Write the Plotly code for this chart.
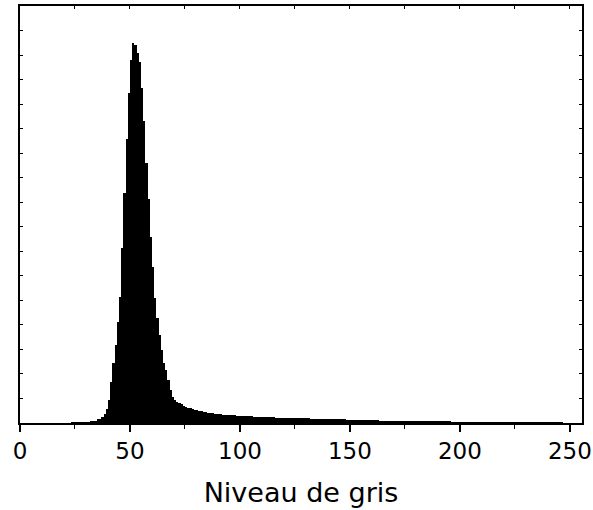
import plotly.graph_objects as go

# Grey levels 0..255 and their pixel counts
levels = list(range(256))
counts = [
    0, 0, 0, 0, 0, 0, 0, 0, 0, 0,
    0, 0, 0, 0, 0, 0, 0, 0, 0, 0,
    0, 0, 0, 1, 2, 3, 5, 7, 10, 14,
    20, 33, 53, 73, 102, 143, 183, 245, 367, 571,
    938, 1672, 2446, 3180, 4118, 5137, 7135, 9377, 11579, 13454,
    14800, 15490, 15410, 15100, 14700, 13650, 12300, 10600, 9130, 7580,
    6360, 5100, 4280, 3590, 2980, 2450, 2160, 1750, 1350, 1060,
    930, 850, 800, 760, 700, 660, 625, 600, 570, 545,
    520, 495, 470, 450, 435, 420, 405, 395, 385, 372,
    362, 355, 345, 338, 330, 322, 316, 308, 300, 297,
    292, 288, 283, 279, 275, 270, 265, 262, 258, 252,
    248, 244, 238, 232, 230, 227, 224, 222, 219, 216,
    214, 211, 208, 205, 203, 200, 197, 195, 192, 190,
    187, 185, 182, 179, 177, 174, 172, 169, 166, 164,
    161, 158, 156, 153, 151, 148, 146, 143, 140, 138,
    135, 132, 130, 127, 124, 121, 118, 115, 113, 110,
    108, 106, 104, 102, 100, 98, 96, 94, 92, 90,
    88, 86, 85, 83, 82, 80, 78, 76, 74, 72,
    70, 68, 66, 64, 62, 60, 58, 57, 55, 53,
    52, 50, 48, 46, 44, 42, 40, 38, 36, 34,
    32, 31, 30, 29, 29, 27, 26, 25, 24, 23,
    22, 21, 20, 19, 18, 18, 17, 17, 16, 16,
    15, 14, 13, 12, 11, 10, 9, 8, 7, 6,
    6, 5, 5, 4, 4, 3, 3, 3, 2, 2,
    2, 2, 1, 1, 1, 1, 1, 0, 0, 0,
    0, 0, 0, 0, 0, 0,
]
x_ticks = [0, 50, 100, 150, 200, 250]
x_title = "Niveau de gris"

FONT = "DejaVu Sans"

fig = go.Figure()
fig.add_trace(go.Bar(
    x=levels, y=counts, width=1, offset=0,
    marker=dict(color="black", line=dict(width=0)),
    showlegend=False, hoverinfo="x+y",
))
# dummy trace to create the top axis (inward ticks)
fig.add_trace(go.Scatter(x=[], y=[], xaxis="x2", showlegend=False))

fig.update_layout(
    width=593, height=510,
    margin=dict(l=20, r=11, t=6, b=87, autoexpand=False),
    paper_bgcolor="white", plot_bgcolor="white",
    bargap=0,
    font=dict(family=FONT, color="black"),
    xaxis=dict(
        range=[0, 255.5], tickmode="array", tickvals=x_ticks,
        ticktext=[str(v) for v in x_ticks], automargin=False,
        ticks="outside", ticklen=7, tickwidth=1.5, tickcolor="black",
        minor=dict(dtick=25, tick0=0, ticks="outside", ticklen=4, tickwidth=1.2, tickcolor="black"),
        showline=True, linewidth=1.5, linecolor="black", mirror=True,
        showgrid=False, zeroline=False,
        tickfont=dict(size=23, family=FONT),
        title=dict(text=x_title, font=dict(size=27, family=FONT), standoff=20),
    ),
    xaxis2=dict(
        overlaying="x", side="top", anchor="y", range=[0, 255.5], automargin=False,
        tickmode="linear", tick0=0, dtick=25,
        ticks="inside", ticklen=3, tickwidth=1, tickcolor="black",
        showticklabels=False, showline=False, showgrid=False, zeroline=False,
    ),
    yaxis=dict(
        range=[0, 17000], tickmode="linear", tick0=0, dtick=1000, automargin=False,
        ticks="inside", ticklen=3, tickwidth=1, tickcolor="black",
        showticklabels=False, showline=True, linewidth=1.5, linecolor="black",
        mirror="ticks", showgrid=False, zeroline=False,
    ),
)

fig.write_html(
    "out.html",
    config={"displayModeBar": False},
    post_script="document.body.style.margin='0';document.body.style.overflow='hidden';",
)
